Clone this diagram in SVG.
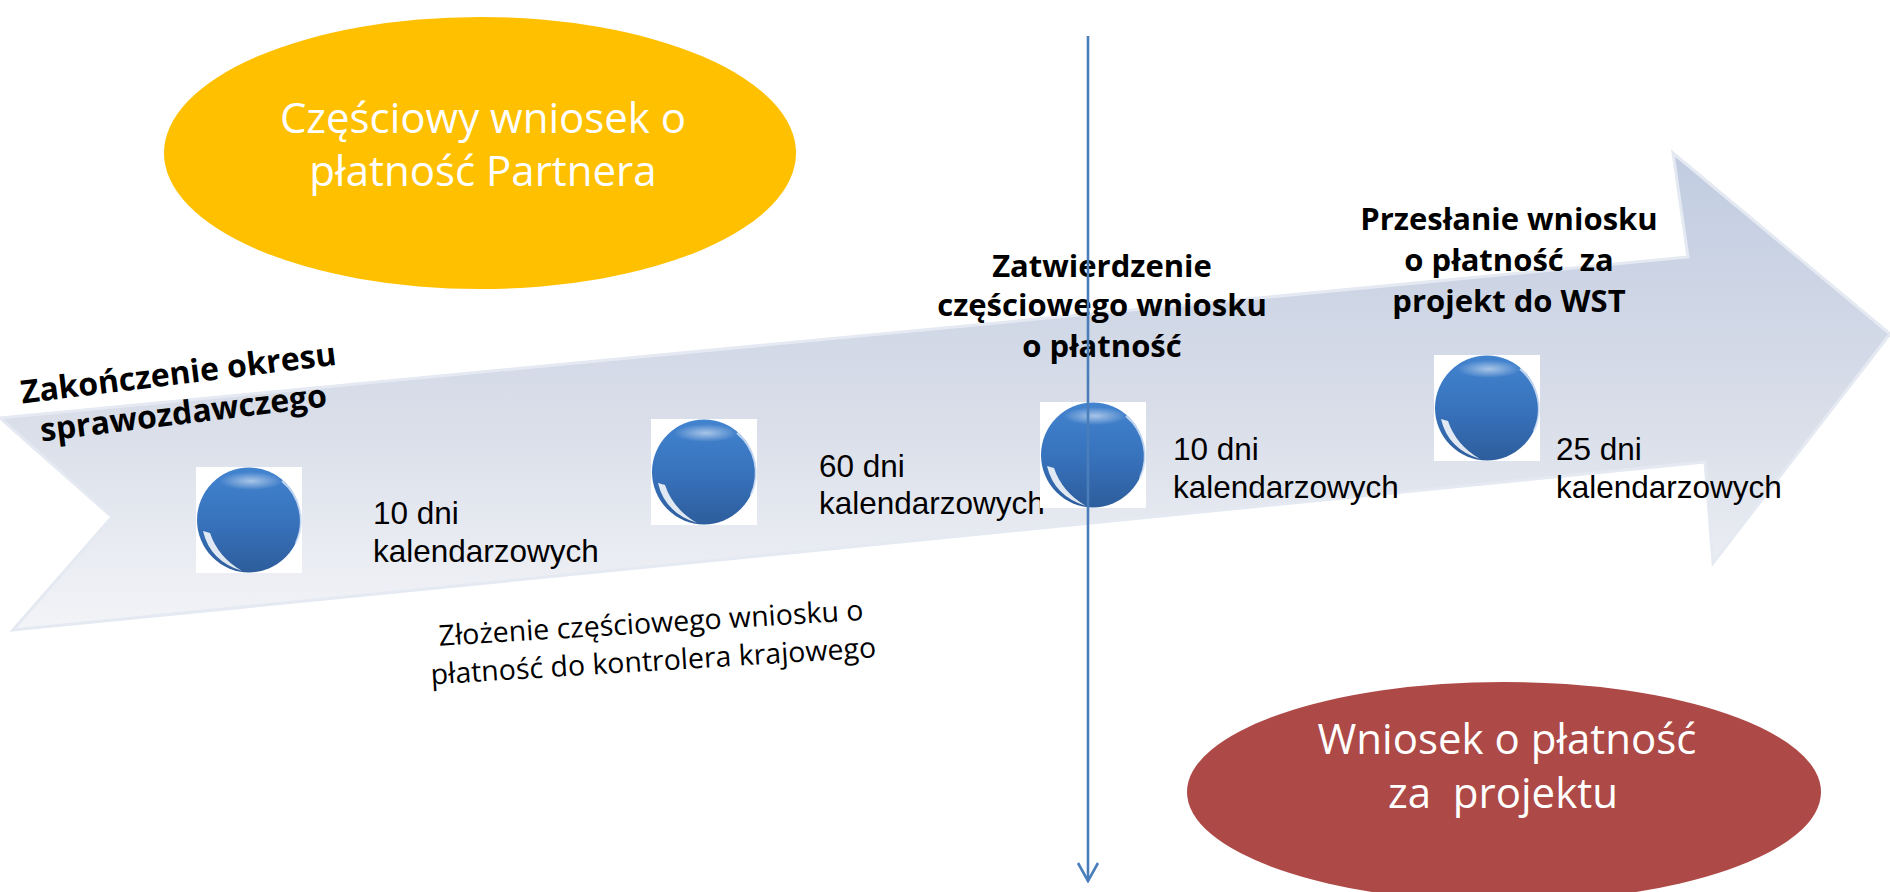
<svg xmlns="http://www.w3.org/2000/svg" xmlns:xlink="http://www.w3.org/1999/xlink" width="1890" height="892" viewBox="0 0 1890 892">
  <style>
    .bold { font-family: "Open Sans", "Liberation Sans", sans-serif; font-weight: 700; font-size: 31px; fill: #000; }
    .days { font-family: "Liberation Sans", Arial, sans-serif; font-size: 31.5px; fill: #000; }
    .oval { font-family: "Open Sans", "Liberation Sans", sans-serif; font-size: 42px; fill: #fff; text-anchor: middle; }
    .note { font-family: "Open Sans", "Liberation Sans", sans-serif; font-size: 28.5px; fill: #000; text-anchor: middle; }
    .mid { text-anchor: middle; }
    .conn { fill: none; stroke: #4a7ebb; stroke-width: 2.6; }
  </style>
  <defs>
    <linearGradient id="arrowFill" gradientUnits="userSpaceOnUse" x1="0" y1="150" x2="0" y2="640">
      <stop offset="0" stop-color="#c1cce1"/>
      <stop offset="0.55" stop-color="#d9dee9"/>
      <stop offset="1" stop-color="#f4f5f8"/>
    </linearGradient>
    <linearGradient id="ballFill" x1="0" y1="0" x2="0" y2="1">
      <stop offset="0" stop-color="#4283cf"/>
      <stop offset="0.5" stop-color="#3873bd"/>
      <stop offset="1" stop-color="#2d5d9c"/>
    </linearGradient>
    <radialGradient id="ballTop" cx="0.5" cy="0.5" r="0.5">
      <stop offset="0" stop-color="#ffffff" stop-opacity="0.55"/>
      <stop offset="1" stop-color="#ffffff" stop-opacity="0"/>
    </radialGradient>
    <g id="ball">
      <rect x="0" y="0" width="106" height="106" fill="#ffffff"/>
      <ellipse cx="53" cy="53" rx="52" ry="52.5" fill="url(#ballFill)"/>
      <ellipse cx="55" cy="14" rx="32" ry="9" fill="url(#ballTop)"/>
      <path d="M 7 64 Q 14 94 46 104 Q 22 90 14 66 Z" fill="#ffffff" fill-opacity="0.85"/>
      <path d="M 86 14 A 52 52 0 0 1 100 76" fill="none" stroke="#d6e4f6" stroke-width="2" stroke-opacity="0.85"/>
    </g>
    <marker id="openHead" markerUnits="userSpaceOnUse" viewBox="-22 -13 24 26" refX="0" refY="0" markerWidth="24" markerHeight="26" orient="auto">
      <path d="M -18 -10 L 0 0 L -18 10" fill="none" stroke="#4a7ebb" stroke-width="2.6"/>
    </marker>
  </defs>

  <g id="timeline-arrow">
    <path d="M 0 418 L 1688 257 L 1673 153 L 1890 334 L 1713 563 L 1705 462 L 13 630 L 112 517 Z" fill="url(#arrowFill)" stroke="#e4e9f2" stroke-width="3" stroke-linejoin="miter"/>
  </g>

  <g id="oval-partner">
    <ellipse cx="480" cy="153" rx="316" ry="136" fill="#ffc000"/>
    <text class="oval" x="483" y="133">Częściowy wniosek o</text>
    <text class="oval" x="483" y="186">płatność Partnera</text>
  </g>

  <g id="oval-project">
    <ellipse cx="1504" cy="792" rx="317" ry="110" fill="#ad4946"/>
    <text class="oval" x="1507" y="754">Wniosek o płatność</text>
    <text class="oval" x="1503" y="808" xml:space="preserve">za  projektu</text>
  </g>

  <g id="step1">
    <use xlink:href="#ball" href="#ball" transform="translate(196,467)"/>
    <g transform="translate(26,403) rotate(-7)">
      <text class="bold mid" x="155" y="0" style="font-size:32px">Zakończenie okresu</text>
      <text class="bold mid" x="155" y="40" style="font-size:32px">sprawozdawczego</text>
    </g>
    <text class="days" x="373" y="524">10 dni</text>
    <text class="days" x="373" y="562">kalendarzowych</text>
  </g>

  <g id="step2">
    <use xlink:href="#ball" href="#ball" transform="translate(651,419)"/>
    <g transform="translate(437,646) rotate(-3.5)">
      <text class="note" x="215" y="0">Złożenie częściowego wniosku o</text>
      <text class="note" x="215" y="38">płatność do kontrolera krajowego</text>
    </g>
    <text class="days" x="819" y="477">60 dni</text>
    <text class="days" x="819" y="514">kalendarzowych</text>
  </g>

  <g id="step3">
    <use xlink:href="#ball" href="#ball" transform="translate(1040,402)"/>
    <text class="bold mid" x="1102" y="277">Zatwierdzenie</text>
    <text class="bold mid" x="1102" y="316">częściowego wniosku</text>
    <text class="bold mid" x="1102" y="357">o płatność</text>
    <text class="days" x="1173" y="460">10 dni</text>
    <text class="days" x="1173" y="498">kalendarzowych</text>
  </g>

  <g id="step4">
    <use xlink:href="#ball" href="#ball" transform="translate(1434,355)"/>
    <text class="bold mid" x="1509" y="230">Przesłanie wniosku</text>
    <text class="bold mid" x="1509" y="271" xml:space="preserve">o płatność  za</text>
    <text class="bold mid" x="1509" y="312">projekt do WST</text>
    <text class="days" x="1556" y="460">25 dni</text>
    <text class="days" x="1556" y="498">kalendarzowych</text>
  </g>

  <g id="connectors">
    <line class="conn" x1="1088" y1="36" x2="1088" y2="881" marker-end="url(#openHead)"/>
  </g>
</svg>
